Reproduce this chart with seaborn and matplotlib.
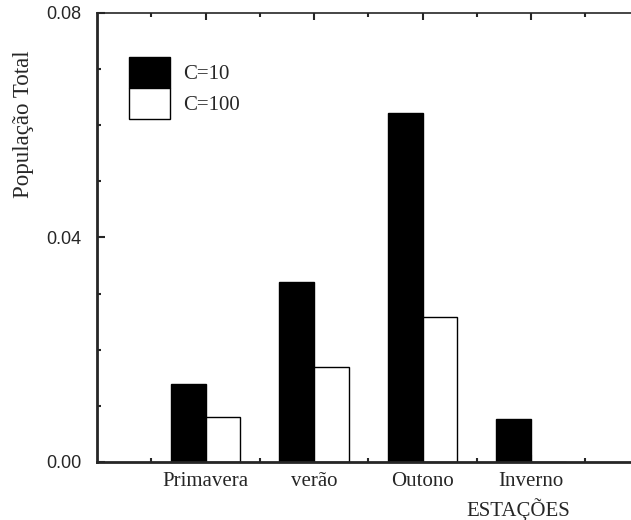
import matplotlib
matplotlib.use("Agg")
import matplotlib.pyplot as plt
import seaborn as sns
import pandas as pd
from matplotlib.ticker import MultipleLocator, FixedLocator

seasons = ["Primavera", "verão", "Outono", "Inverno"]
groups = ["C=10", "C=100"]
values_c10 = [0.0139, 0.0321, 0.0622, 0.0077]
values_c100 = [0.0081, 0.0170, 0.0259, 0.0]
yticks = [0.00, 0.04, 0.08]
ytick_labels = ["0.00", "0.04", "0.08"]

df = pd.DataFrame({
    "season": seasons * 2,
    "group": [groups[0]] * 4 + [groups[1]] * 4,
    "value": values_c10 + values_c100,
})

sns.set_style("ticks")
serif = ["Liberation Serif", "DejaVu Serif"]
sans = ["Liberation Sans", "DejaVu Sans"]

fig = plt.figure(figsize=(6.31, 5.20), dpi=100)
ax = fig.add_axes([97 / 631, 58 / 520, 534 / 631, 449 / 520])

sns.barplot(data=df, x="season", y="value", hue="group", order=seasons,
            hue_order=groups, palette={"C=10": "black", "C=100": "white"},
            saturation=1, width=0.64, edgecolor="black", linewidth=1,
            ax=ax)

ax.set_xlim(-1, 3.92)
ax.set_ylim(0, 0.08)

for s in ["left", "bottom"]:
    ax.spines[s].set_linewidth(2)
ax.spines["top"].set_linewidth(1.2)
ax.spines["right"].set_visible(False)

ax.yaxis.set_major_locator(FixedLocator(yticks))
ax.set_yticklabels(ytick_labels, fontfamily=sans, fontsize=13)
ax.yaxis.set_minor_locator(MultipleLocator(0.01))
ax.tick_params(axis="y", which="major", direction="in", length=6, width=1.5, pad=11, right=False)
ax.tick_params(axis="y", which="minor", direction="in", length=3, width=1.5, right=False)

ax.xaxis.set_minor_locator(FixedLocator([-0.5, 0.5, 1.5, 2.5, 3.5]))
ax.tick_params(axis="x", which="major", direction="in", length=5, width=1.5, top=True, bottom=True, pad=7)
ax.tick_params(axis="x", which="minor", direction="in", length=3, width=1.5, top=True, bottom=True)
for lbl in ax.get_xticklabels():
    lbl.set_fontfamily(serif)
    lbl.set_fontsize(15)

ax.set_xlabel("ESTAÇÕES", fontfamily=serif, fontsize=15)
ax.xaxis.set_label_coords(0.788, -0.105)
ax.xaxis.label.set_va("center")
ax.set_ylabel("População Total", fontfamily=serif, fontsize=16.5)
ax.yaxis.set_label_coords(-0.137, 0.753)
ax.yaxis.label.set_va("center")

handles, labels = ax.get_legend_handles_labels()
leg = ax.legend(handles, labels, loc="upper left", bbox_to_anchor=(0.06, 0.902),
                frameon=False, borderpad=0, borderaxespad=0, labelspacing=0,
                handleheight=1.92, handlelength=1.97, handletextpad=0.62,
                prop={"family": serif, "size": 15})

fig.savefig("out.png", dpi=100)
